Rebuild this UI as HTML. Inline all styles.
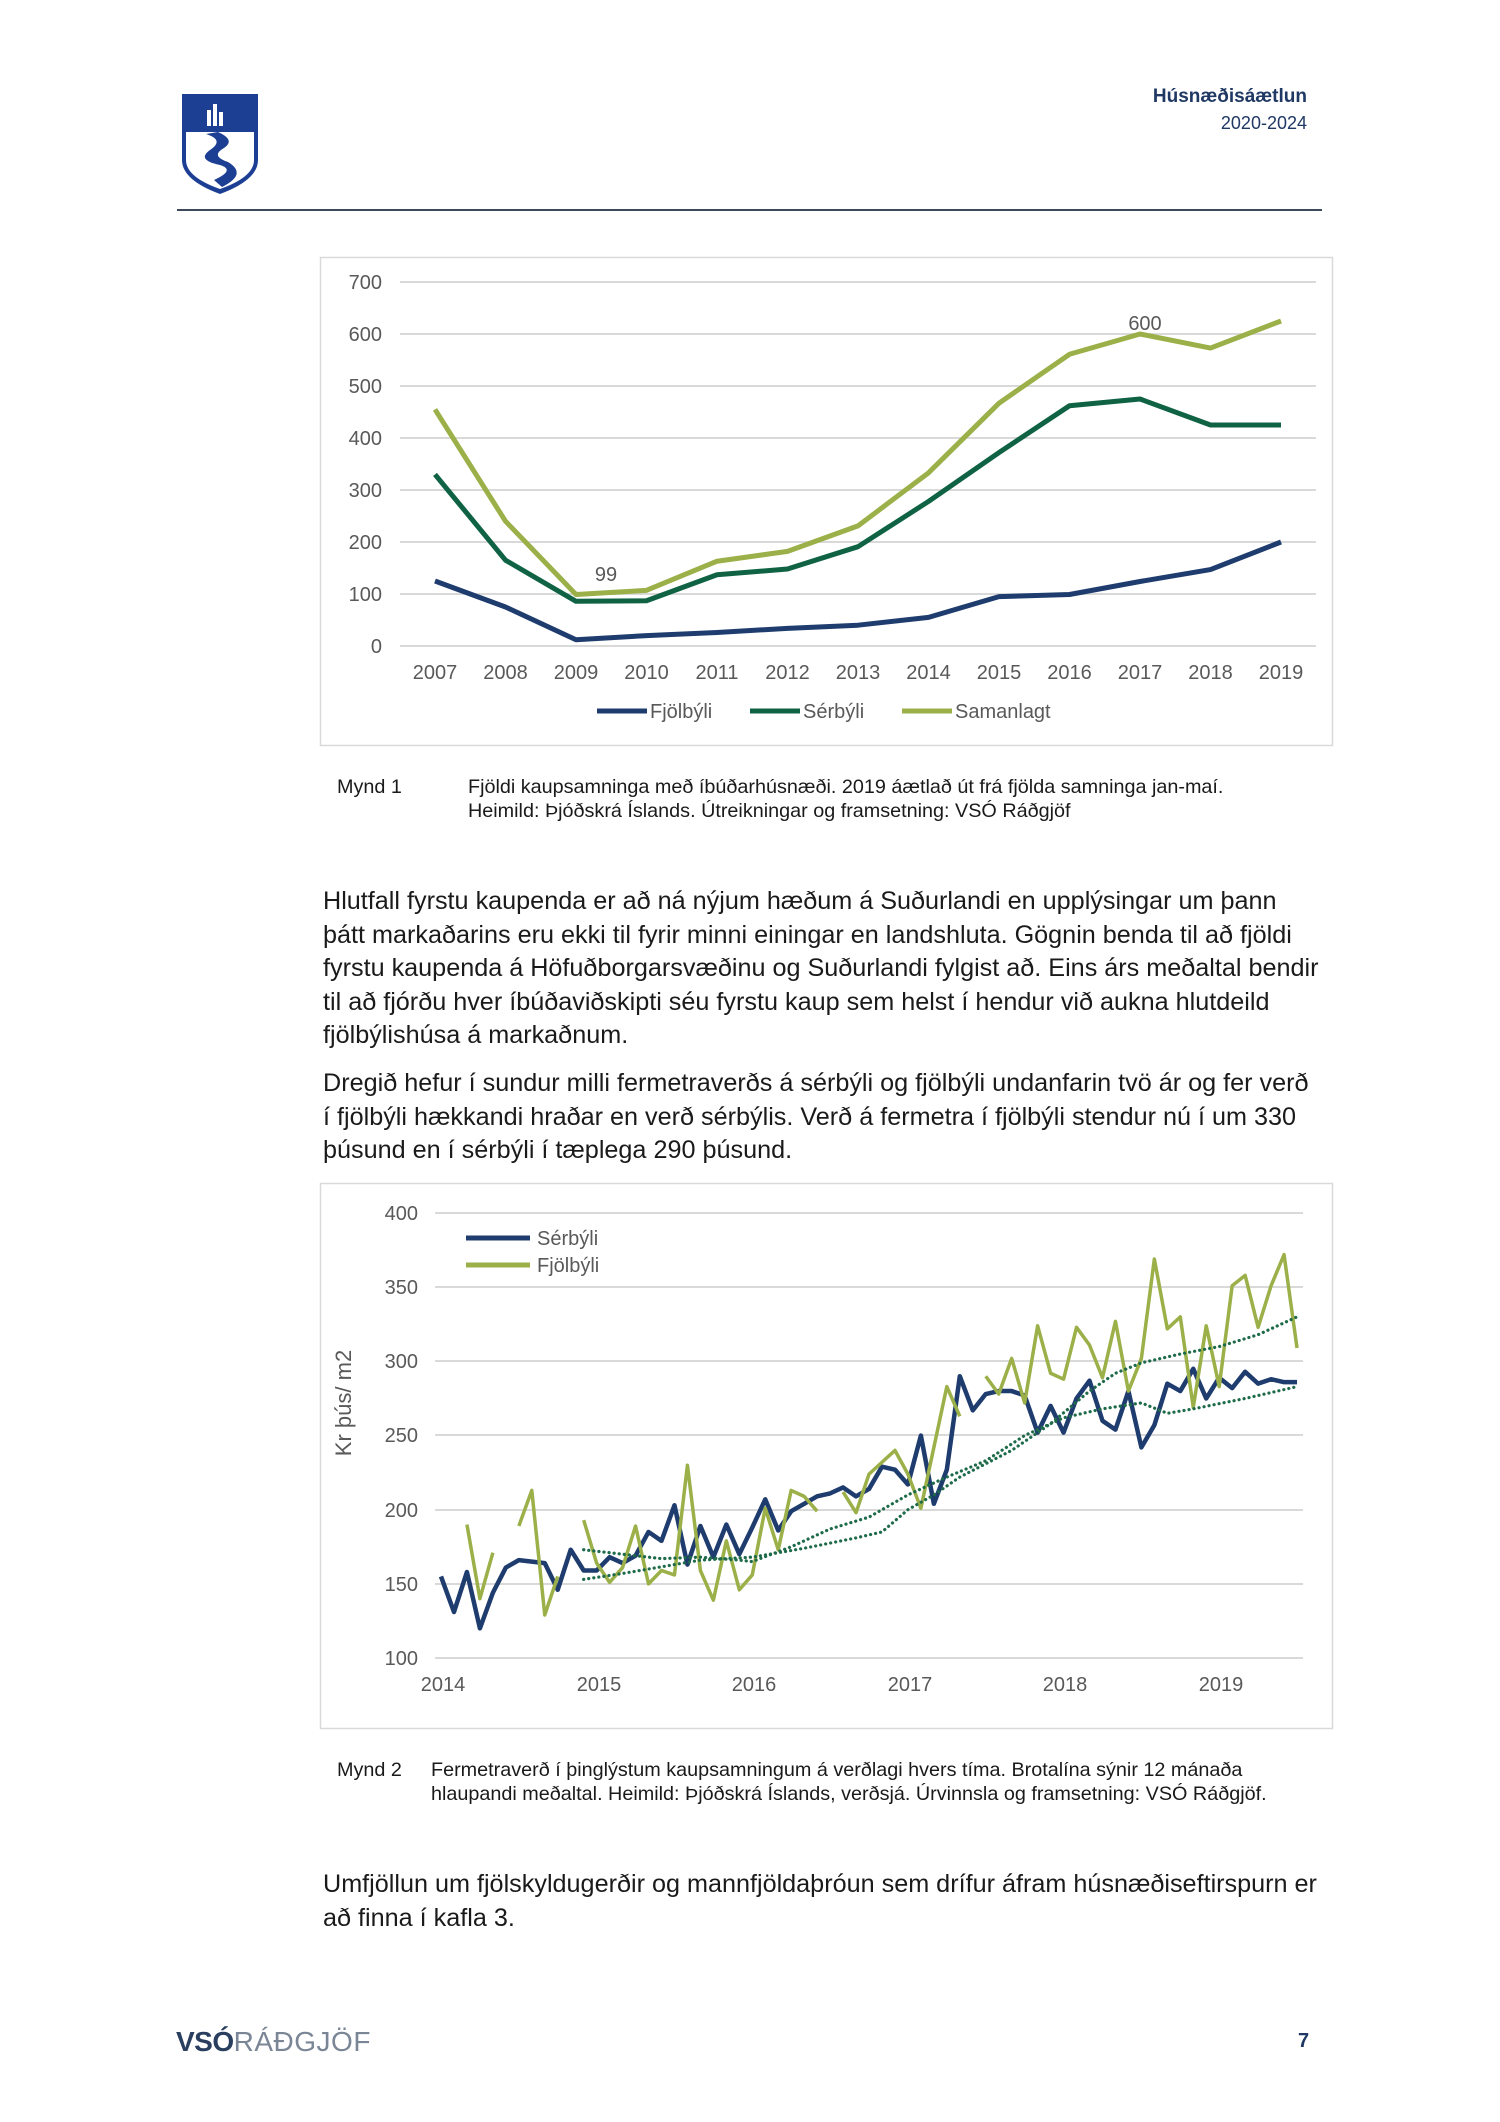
<!DOCTYPE html>
<html><head><meta charset="utf-8"><style>
body{margin:0;background:#fff;}
#p{position:relative;width:1500px;height:2122px;overflow:hidden;font-family:"Liberation Sans",Arial,sans-serif;color:#1a1a1a;}
.t{position:absolute;white-space:nowrap;}
.para{position:absolute;left:323px;font-size:25.2px;line-height:33.5px;white-space:nowrap;}
.cap{position:absolute;font-size:19.8px;line-height:23.5px;white-space:nowrap;}
svg text{font-family:"Liberation Sans",Arial,sans-serif;}
</style></head><body><div id="p">
<svg width="1500" height="2122" style="position:absolute;left:0;top:0">
<path d="M182,94 H258 V160 Q258,180 220,194 Q182,180 182,160 Z" fill="#1c3f94"/>
<path d="M186,132 H254 V160 Q254,177 220,189 Q186,177 186,160 Z" fill="#fff"/>
<path d="M206,134 Q225,140 210,150 Q196,160 220,165 Q236,170 214,180 L222,187 Q248,174 228,162 Q210,156 224,148 Q236,140 218,132 Z" fill="#1c3f94"/>
<rect x="207" y="110" width="4" height="16" fill="#fff"/><rect x="213" y="104" width="4" height="22" fill="#fff"/><rect x="219" y="112" width="4" height="14" fill="#fff"/>
<line x1="177" y1="210" x2="1322" y2="210" stroke="#3d4a5a" stroke-width="2"/>

<rect x="320.5" y="257.5" width="1012" height="488" fill="none" stroke="#d9d9d9" stroke-width="1.5"/>
<g stroke="#d9d9d9" stroke-width="2">
<line x1="400" x2="1316" y1="282" y2="282"/><line x1="400" x2="1316" y1="334" y2="334"/><line x1="400" x2="1316" y1="386" y2="386"/><line x1="400" x2="1316" y1="438" y2="438"/><line x1="400" x2="1316" y1="490" y2="490"/><line x1="400" x2="1316" y1="542" y2="542"/><line x1="400" x2="1316" y1="594" y2="594"/><line x1="400" x2="1316" y1="646" y2="646"/>
</g>
<g font-size="20" fill="#595959" text-anchor="end">
<text x="382" y="289">700</text><text x="382" y="341">600</text><text x="382" y="393">500</text><text x="382" y="445">400</text><text x="382" y="497">300</text><text x="382" y="549">200</text><text x="382" y="601">100</text><text x="382" y="653">0</text>
</g>
<g font-size="20" fill="#595959" text-anchor="middle">
<text x="435" y="679">2007</text><text x="505.5" y="679">2008</text><text x="576" y="679">2009</text><text x="646.5" y="679">2010</text><text x="717" y="679">2011</text><text x="787.5" y="679">2012</text><text x="858" y="679">2013</text><text x="928.5" y="679">2014</text><text x="999" y="679">2015</text><text x="1069.5" y="679">2016</text><text x="1140" y="679">2017</text><text x="1210.5" y="679">2018</text><text x="1281" y="679">2019</text>
<text x="606" y="581">99</text><text x="1145" y="330">600</text>
</g>
<g transform="translate(435,646) scale(70.5,-0.52)" fill="none" stroke-linejoin="round">
<polyline vector-effect="non-scaling-stroke" stroke="#1f3c6e" stroke-width="5" points="0,125 1,75 2,12 3,20 4,26 5,34 6,40 7,55 8,95 9,99 10,124 11,147 12,200"/>
<polyline vector-effect="non-scaling-stroke" stroke="#0f6344" stroke-width="5" points="0,330 1,165 2,86 3,87 4,137 5,148 6,191 7,278 8,372 9,462 10,475 11,425 12,425"/>
<polyline vector-effect="non-scaling-stroke" stroke="#9bb048" stroke-width="5" points="0,455 1,240 2,99 3,107 4,163 5,182 6,231 7,333 8,467 9,561 10,600 11,573 12,625"/>
</g>
<g font-size="20" fill="#595959">
<line x1="597" y1="711" x2="647" y2="711" stroke="#1f3c6e" stroke-width="5"/><text x="650" y="718">Fjölbýli</text>
<line x1="750" y1="711" x2="800" y2="711" stroke="#0f6344" stroke-width="5"/><text x="803" y="718">Sérbýli</text>
<line x1="902" y1="711" x2="952" y2="711" stroke="#9bb048" stroke-width="5"/><text x="955" y="718">Samanlagt</text>
</g>

<rect x="320.5" y="1183.5" width="1012" height="545" fill="none" stroke="#d9d9d9" stroke-width="1.5"/>
<g stroke="#d9d9d9" stroke-width="2">
<line x1="435" x2="1303" y1="1213" y2="1213"/><line x1="435" x2="1303" y1="1287" y2="1287"/><line x1="435" x2="1303" y1="1361" y2="1361"/><line x1="435" x2="1303" y1="1435" y2="1435"/><line x1="435" x2="1303" y1="1510" y2="1510"/><line x1="435" x2="1303" y1="1584" y2="1584"/><line x1="435" x2="1303" y1="1658" y2="1658"/>
</g>
<g font-size="20" fill="#595959" text-anchor="end">
<text x="418" y="1220">400</text><text x="418" y="1294">350</text><text x="418" y="1368">300</text><text x="418" y="1442">250</text><text x="418" y="1517">200</text><text x="418" y="1591">150</text><text x="418" y="1665">100</text>
</g>
<g font-size="20" fill="#595959" text-anchor="middle">
<text x="443" y="1691">2014</text><text x="599" y="1691">2015</text><text x="754" y="1691">2016</text><text x="910" y="1691">2017</text><text x="1065" y="1691">2018</text><text x="1221" y="1691">2019</text>
<text transform="translate(351,1403) rotate(-90)" font-size="22">Kr þús/ m2</text>
</g>
<g transform="translate(441,1658) scale(12.97,-1.483) translate(0,-100)" fill="none" stroke-linejoin="round">
<polyline vector-effect="non-scaling-stroke" stroke="#1f3c6e" stroke-width="4.5" points="0,155 1,131 2,158 3,120 4,144 5,161 6,166 7,165 8,164 9,146 10,173 11,159 12,159 13,168 14,164 15,169 16,185 17,179 18,203 19,163 20,189 21,168 22,190 23,170 24,188 25,207 26,186 27,199 28,204 29,209 30,211 31,215 32,209 33,214 34,229 35,227 36,217 37,250 38,204 39,227 40,290 41,267 42,278 43,280 44,280 45,277 46,252 47,270 48,252 49,275 50,287 51,260 52,254 53,280 54,242 55,257 56,285 57,280 58,295 59,275 60,289 61,282 62,293 63,285 64,288 65,286 66,286"/>
<g stroke="#9bb048" stroke-width="3.5">
<polyline vector-effect="non-scaling-stroke" points="2,190 3,140 4,171"/>
<polyline vector-effect="non-scaling-stroke" points="6,189 7,213 8,129 9,155"/>
<polyline vector-effect="non-scaling-stroke" points="11,193 12,164 13,151 14,161 15,189 16,150 17,159 18,156 19,230 20,159 21,139 22,179 23,146 24,156 25,201 26,173 27,213 28,209 29,199"/>
<polyline vector-effect="non-scaling-stroke" points="31,212 32,198 33,224 34,232 35,240 36,224 37,201 38,242 39,283 40,263"/>
<polyline vector-effect="non-scaling-stroke" points="42,290 43,278 44,302 45,272 46,324 47,292 48,288 49,323 50,311 51,289 52,327 53,280 54,302 55,369 56,322 57,330 58,269 59,324 60,283 61,351 62,358 63,323 64,351 65,372 66,309"/>
</g>
<g stroke="#1e6b4a" stroke-width="3.2" stroke-dasharray="0.1 5" stroke-linecap="round">
<polyline vector-effect="non-scaling-stroke" points="11,153 14,157 20,166 24,168 28,174 32,181 34,185 36,200 38,210 40,222 44,240 47,258 50,280 52,292 54,299 57,305 60,310 63,318 66,330"/>
<polyline vector-effect="non-scaling-stroke" points="11,173 14,170 17,167 20,168 23,166 24,165 27,175 30,187 33,195 36,210 39,222 42,233 45,250 48,262 51,268 54,272 56,265 58,268 62,275 66,283"/>
</g>
</g>
<g font-size="20" fill="#595959">
<line x1="466" y1="1238" x2="530" y2="1238" stroke="#1f3c6e" stroke-width="5"/><text x="537" y="1245">Sérbýli</text>
<line x1="466" y1="1265" x2="530" y2="1265" stroke="#9bb048" stroke-width="5"/><text x="537" y="1272">Fjölbýli</text>
</g>
</svg>

<div class="t" style="right:193px;top:86px;font-size:19px;font-weight:bold;color:#1f3864;">Húsnæðisáætlun</div>
<div class="t" style="right:193px;top:113px;font-size:18px;color:#1f3864;">2020-2024</div>

<div class="cap" style="left:337px;top:776px;">Mynd 1</div>
<div class="cap" style="left:468px;top:776px;">Fjöldi kaupsamninga með íbúðarhúsnæði. 2019 áætlað út frá fjölda samninga jan-maí.<br>Heimild: Þjóðskrá Íslands. Útreikningar og framsetning: VSÓ Ráðgjöf</div>

<div class="para" style="top:885px;">Hlutfall fyrstu kaupenda er að ná nýjum hæðum á Suðurlandi en upplýsingar um þann<br>þátt markaðarins eru ekki til fyrir minni einingar en landshluta. Gögnin benda til að fjöldi<br>fyrstu kaupenda á Höfuðborgarsvæðinu og Suðurlandi fylgist að. Eins árs meðaltal bendir<br>til að fjórðu hver íbúðaviðskipti séu fyrstu kaup sem helst í hendur við aukna hlutdeild<br>fjölbýlishúsa á markaðnum.</div>
<div class="para" style="top:1067px;">Dregið hefur í sundur milli fermetraverðs á sérbýli og fjölbýli undanfarin tvö ár og fer verð<br>í fjölbýli hækkandi hraðar en verð sérbýlis. Verð á fermetra í fjölbýli stendur nú í um 330<br>þúsund en í sérbýli í tæplega 290 þúsund.</div>

<div class="cap" style="left:337px;top:1759px;">Mynd 2</div>
<div class="cap" style="left:431px;top:1759px;">Fermetraverð í þinglýstum kaupsamningum á verðlagi hvers tíma. Brotalína sýnir 12 mánaða<br>hlaupandi meðaltal. Heimild: Þjóðskrá Íslands, verðsjá. Úrvinnsla og framsetning: VSÓ Ráðgjöf.</div>

<div class="para" style="top:1868px;">Umfjöllun um fjölskyldugerðir og mannfjöldaþróun sem drífur áfram húsnæðiseftirspurn er<br>að finna í kafla 3.</div>

<div class="t" style="left:176px;top:2026px;font-size:28px;color:#2a3f5f;letter-spacing:-0.5px;"><b>VSÓ</b><span style="color:#7a8595;font-weight:normal;letter-spacing:0.5px;">RÁÐGJÖF</span></div>
<div class="t" style="left:1298px;top:2030px;font-size:20px;font-weight:bold;color:#1f3864;">7</div>
</div></body></html>
